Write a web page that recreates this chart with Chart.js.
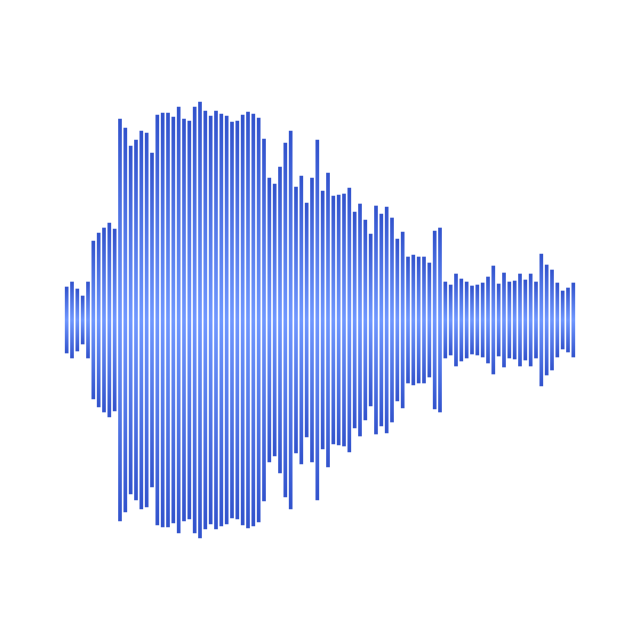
<!DOCTYPE html>
<html>
<head>
<meta charset="utf-8">
<script src="https://cdn.jsdelivr.net/npm/chart.js@4/dist/chart.umd.min.js"></script>
<style>
    html, body { margin: 0; padding: 0; background: #ffffff; }
    #wrap { width: 640px; height: 640px; }
</style>
</head>
<body>
<div id="wrap"><canvas id="wave"></canvas></div>
<script>
// Waveform peak amplitudes, one per sample bar (mirrored above and below zero)
const samples = Array.from({ length: 96 }, (_, i) => String(i + 1));

const peaks = [
    33, 38, 31, 24, 38, 79, 87, 92, 97, 91,
    201, 192, 174, 180, 189, 187, 167, 205, 207, 207,
    203, 213, 201, 199, 213, 218, 209, 204, 209, 206,
    204, 198, 199, 205, 208, 206, 202, 181, 142, 136,
    153, 177, 189, 133, 144, 117, 142, 180, 129, 147,
    124, 125, 126, 132, 108, 116, 100, 86, 114, 106,
    113, 102, 81, 88, 63, 65, 63, 63, 57, 89,
    92, 38, 35, 46, 41, 38, 34, 35, 37, 43,
    54, 36, 47, 38, 39, 46, 40, 46, 38, 66,
    55, 50, 37, 29, 32, 37
];

const edgeColor = "#3152cc";
const midColor = "#6f97ff";

// Gradient per bar: dark at both tips, light at the zero line
function barGradient(context) {
    const chart = context.chart;
    const yScale = chart.scales.y;
    if (!yScale || context.type !== "data") {
        return midColor;
    }
    const v = peaks[context.dataIndex];
    const top = yScale.getPixelForValue(v);
    const bottom = yScale.getPixelForValue(-v);
    if (!isFinite(top) || !isFinite(bottom) || top === bottom) {
        return midColor;
    }
    const g = chart.ctx.createLinearGradient(0, top, 0, bottom);
    g.addColorStop(0, edgeColor);
    g.addColorStop(0.5, midColor);
    g.addColorStop(1, edgeColor);
    return g;
}

const ctx = document.getElementById("wave").getContext("2d");

const waveChart = new Chart(ctx, {
    type: "bar",
    data: {
        labels: samples,
        datasets: [
            {
                label: "Amplitude",
                data: peaks.map(p => [-p, p]),
                backgroundColor: barGradient,
                borderWidth: 0,
                borderSkipped: false,
                barThickness: 3
            }
        ]
    },
    options: {
        responsive: true,
        maintainAspectRatio: false,
        animation: false,
        layout: {
            padding: { left: 64, right: 64, top: 0, bottom: 0 }
        },
        plugins: {
            legend: { display: false },
            tooltip: { enabled: false }
        },
        scales: {
            x: {
                display: false,
                offset: true
            },
            y: {
                display: false,
                min: -320,
                max: 320
            }
        }
    }
});
</script>
</body>
</html>
